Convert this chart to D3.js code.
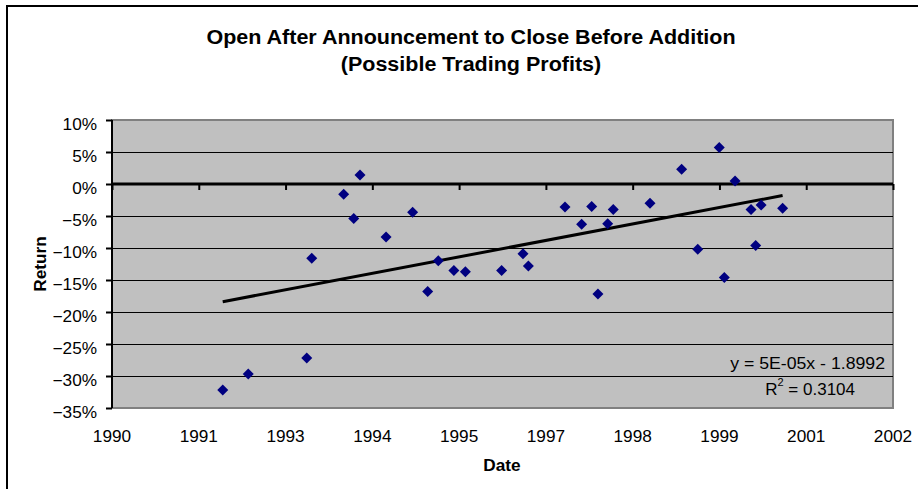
<!DOCTYPE html>
<html><head><meta charset="utf-8">
<script src="https://cdn.jsdelivr.net/npm/d3@7"></script>
<style>body{margin:0;background:#fff}svg{display:block}text{font-family:Arial,"Liberation Sans",sans-serif}</style>
</head><body>
<svg id="chart" width="918" height="489"></svg>
<script>
// Excel date serial numbers of each event
const dates = [33638,33785,34122,34151,34335,34393,34429,34579,34732,34819,34880,34970,35036,35245,35368,35399,35610,35706,35764,35800,35856,35888,36100,36282,36375,36499,36528,36590,36682,36709,36740,36864];
const returns = [-0.322,-0.297,-0.272,-0.116,-0.016,-0.054,0.014,-0.083,-0.044,-0.168,-0.120,-0.135,-0.137,-0.135,-0.109,-0.128,-0.036,-0.063,-0.035,-0.172,-0.062,-0.040,-0.030,0.023,-0.102,0.057,-0.146,0.0045,-0.040,-0.096,-0.033,-0.038];
const xTickValues = [33000,33500,34000,34500,35000,35500,36000,36500,37000,37500];
const xTickLabels = ["1990","1991","1993","1994","1995","1997","1998","1999","2001","2002"];
const yTickValues = [0.10,0.05,0,-0.05,-0.10,-0.15,-0.20,-0.25,-0.30,-0.35];
const titleLines = ["Open After Announcement to Close Before Addition","(Possible Trading Profits)"];
const equationText = "y = 5E-05x - 1.8992";
const r2Text = "0.3104";

const K = 1.075; // horizontal stretch of the original rendering
function stretch(sel,k){ sel.each(function(){ const w=this.getComputedTextLength(); d3.select(this).attr("textLength",w*k).attr("lengthAdjust","spacingAndGlyphs"); }); }

const svg = d3.select("#chart");
const L = 112, R = 893, T = 120, B = 408;
const x = d3.scaleLinear().domain([33000,37500]).range([L,R]);
const y = d3.scaleLinear().domain([-0.35,0.10]).range([B,T]);

// outer frame
svg.append("rect").attr("x",7).attr("y",6).attr("width",930).attr("height",500)
  .attr("fill","none").attr("stroke","#000").attr("stroke-width",2);

// title
svg.append("g").selectAll("text").data(titleLines).join("text")
  .attr("x",471).attr("y",(d,i)=>44+i*27).attr("text-anchor","middle")
  .attr("font-weight","bold").attr("font-size",20).text(d=>d).call(stretch,K);

// plot area
svg.append("rect").attr("x",L).attr("y",T).attr("width",R-L).attr("height",B-T)
  .attr("fill","#c0c0c0").attr("stroke","#808080").attr("stroke-width",2);

// gridlines
svg.append("g").selectAll("line").data(yTickValues.filter(v=>v!==0.10 && v!==-0.35 && v!==0)).join("line")
  .attr("x1",L).attr("x2",R).attr("y1",d=>y(d)).attr("y2",d=>y(d))
  .attr("stroke","#000").attr("stroke-width",1).attr("shape-rendering","crispEdges");

// y axis
const yAxis = d3.axisLeft(y).tickValues(yTickValues).tickFormat(d3.format(".0%")).tickSize(6).tickPadding(9);
const gy = svg.append("g").attr("transform",`translate(${L},0)`).call(yAxis);
gy.select(".domain").attr("stroke","#000").attr("stroke-width",2).attr("d",`M0,${T}V${B}`);
gy.selectAll(".tick line").attr("stroke","#000").attr("stroke-width",2);
gy.selectAll(".tick text").attr("font-size",16).attr("dy","0.58em")
  .attr("font-family","Arial, 'Liberation Sans', sans-serif").attr("fill","#000").call(stretch,K);

// x axis at zero
const xAxis = d3.axisBottom(x).tickValues(xTickValues).tickFormat("").tickSize(6);
const gx = svg.append("g").attr("transform",`translate(0,${y(0)})`).call(xAxis);
gx.select(".domain").attr("stroke","#000").attr("stroke-width",3).attr("d",`M${L},0H${R}`);
gx.selectAll(".tick line").attr("stroke","#000").attr("stroke-width",2);

// x labels at bottom
svg.append("g").selectAll("text").data(xTickValues).join("text")
  .attr("x",d=>x(d)).attr("y",442).attr("text-anchor","middle").attr("font-size",16)
  .text((d,i)=>xTickLabels[i]).call(stretch,K);

// axis titles
svg.append("text").attr("x",502).attr("y",471).attr("text-anchor","middle").attr("font-weight","bold").attr("font-size",16).text("Date").call(stretch,K);
svg.append("text").attr("transform","translate(46,264) rotate(-90)").attr("text-anchor","middle").attr("font-weight","bold").attr("font-size",16).text("Return").call(stretch,K);

// trend line (least squares)
const mx = d3.mean(dates), my = d3.mean(returns);
const slope = d3.sum(dates,(d,i)=>(d-mx)*(returns[i]-my))/d3.sum(dates,d=>(d-mx)*(d-mx));
const icpt = my - slope*mx;
const x0 = d3.min(dates), x1 = d3.max(dates);
svg.append("line").attr("x1",x(x0)).attr("x2",x(x1)).attr("y1",y(slope*x0+icpt)).attr("y2",y(slope*x1+icpt))
  .attr("stroke","#000").attr("stroke-width",3);

// points
svg.append("g").selectAll("path").data(dates).join("path")
  .attr("transform",(d,i)=>`translate(${x(d)},${y(returns[i])})`)
  .attr("d","M0,-5.5L5.5,0L0,5.5L-5.5,0Z").attr("fill","#000080");

// equation
svg.append("text").attr("x",885).attr("y",369).attr("text-anchor","end").attr("font-size",17).text(equationText).call(stretch,1.04);
const r2 = svg.append("text").attr("x",855).attr("y",395).attr("text-anchor","end").attr("font-size",17);
r2.append("tspan").text("R");
r2.append("tspan").attr("dy",-9).attr("font-size",11).text("2");
r2.append("tspan").attr("dy",9).text(" = " + r2Text);
</script>
</body></html>
